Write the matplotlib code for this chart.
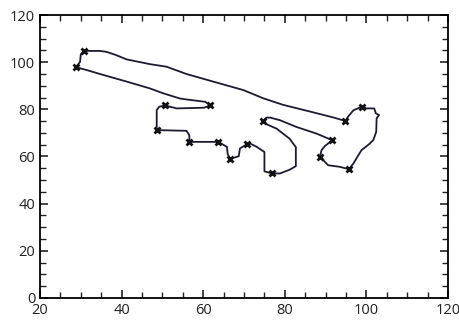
import matplotlib.pyplot as plt
from matplotlib.ticker import MultipleLocator

plt.rcParams['font.family'] = ['Open Sans', 'DejaVu Sans']

# route (closed tour)
route_x = [30.9, 34.7, 36.3, 38.7, 41.2, 46.9, 51.0, 55.9, 62.4, 69.8, 74.7, 79.6, 86.1, 91.8, 94.8,
           95.6, 96.8, 98.9, 100.0, 101.9, 102.3, 103.1, 102.5, 102.4, 101.7, 100.7, 98.8, 97.8, 96.8, 95.7,
           93.5, 90.6, 88.6, 89.0, 89.8, 91.6, 87.8, 82.9, 78.8, 76.4, 75.5, 74.7,
           75.5, 78.0, 81.2, 82.2, 82.7, 82.7, 81.2, 78.8, 76.8, 75.0, 75.0, 73.1, 71.5, 70.7,
           69.0, 68.7, 66.6, 66.0, 65.8, 63.7, 56.6, 56.6, 55.9, 48.6, 48.6, 49.2, 50.6,
           52.6, 53.5, 60.2, 61.7, 60.5, 55.9, 54.3, 50.2, 46.9, 41.2, 34.7, 31.4, 28.8,
           29.8, 30.0, 30.9]
route_y = [104.8, 104.8, 104.4, 103.0, 101.2, 99.2, 98.1, 95.0, 91.8, 88.2, 84.7, 81.9, 79.1, 76.6, 75.1,
           77.1, 79.6, 81.2, 80.4, 80.4, 78.3, 77.6, 76.2, 70.5, 67.0, 65.3, 62.7, 59.9, 57.0, 54.6,
           55.6, 56.3, 59.9, 62.7, 64.4, 66.9, 69.7, 72.5, 75.4, 76.5, 76.5, 75.1,
           73.7, 71.8, 67.5, 65.1, 64.0, 55.9, 54.4, 52.8, 52.8, 53.7, 61.9, 64.1, 65.5, 65.2,
           63.4, 60.1, 59.0, 61.0, 64.1, 66.2, 66.2, 69.0, 70.9, 71.2, 79.7, 81.1, 81.7,
           80.8, 80.4, 80.7, 81.7, 83.2, 84.2, 84.6, 86.8, 88.9, 91.8, 95.0, 96.7, 97.9,
           100.1, 103.4, 104.8]

# cities
city_x = [30.9, 28.8, 61.7, 50.6, 48.6, 56.6, 63.7, 66.6, 70.7, 76.8, 74.7, 91.6, 88.6, 95.7, 98.9, 94.8]
city_y = [104.8, 97.9, 81.7, 81.7, 71.2, 66.2, 66.2, 59.0, 65.2, 52.8, 75.1, 66.9, 59.9, 54.6, 81.2, 75.1]

fig = plt.figure(figsize=(4.6, 3.21), dpi=100)
ax = fig.add_axes([0.087, 0.072, 0.887, 0.881])

ax.plot(route_x, route_y, '-', color='#1c1c30', lw=1.3)
ax.plot(city_x, city_y, 'x', color='#111111', ms=5, mew=2)

ax.set_xlim(20, 120)
ax.set_ylim(0, 120)
ax.xaxis.set_major_locator(MultipleLocator(20))
ax.yaxis.set_major_locator(MultipleLocator(20))
ax.xaxis.set_minor_locator(MultipleLocator(5))
ax.yaxis.set_minor_locator(MultipleLocator(5))
ax.tick_params(which='both', direction='in', top=True, right=True, labelsize=10.5, colors='#222222')
ax.tick_params(which='major', length=6, width=1.2)
ax.tick_params(which='minor', length=4, width=1.0)
for s in ax.spines.values():
    s.set_linewidth(1.3)

fig.savefig('out.png', dpi=100)
